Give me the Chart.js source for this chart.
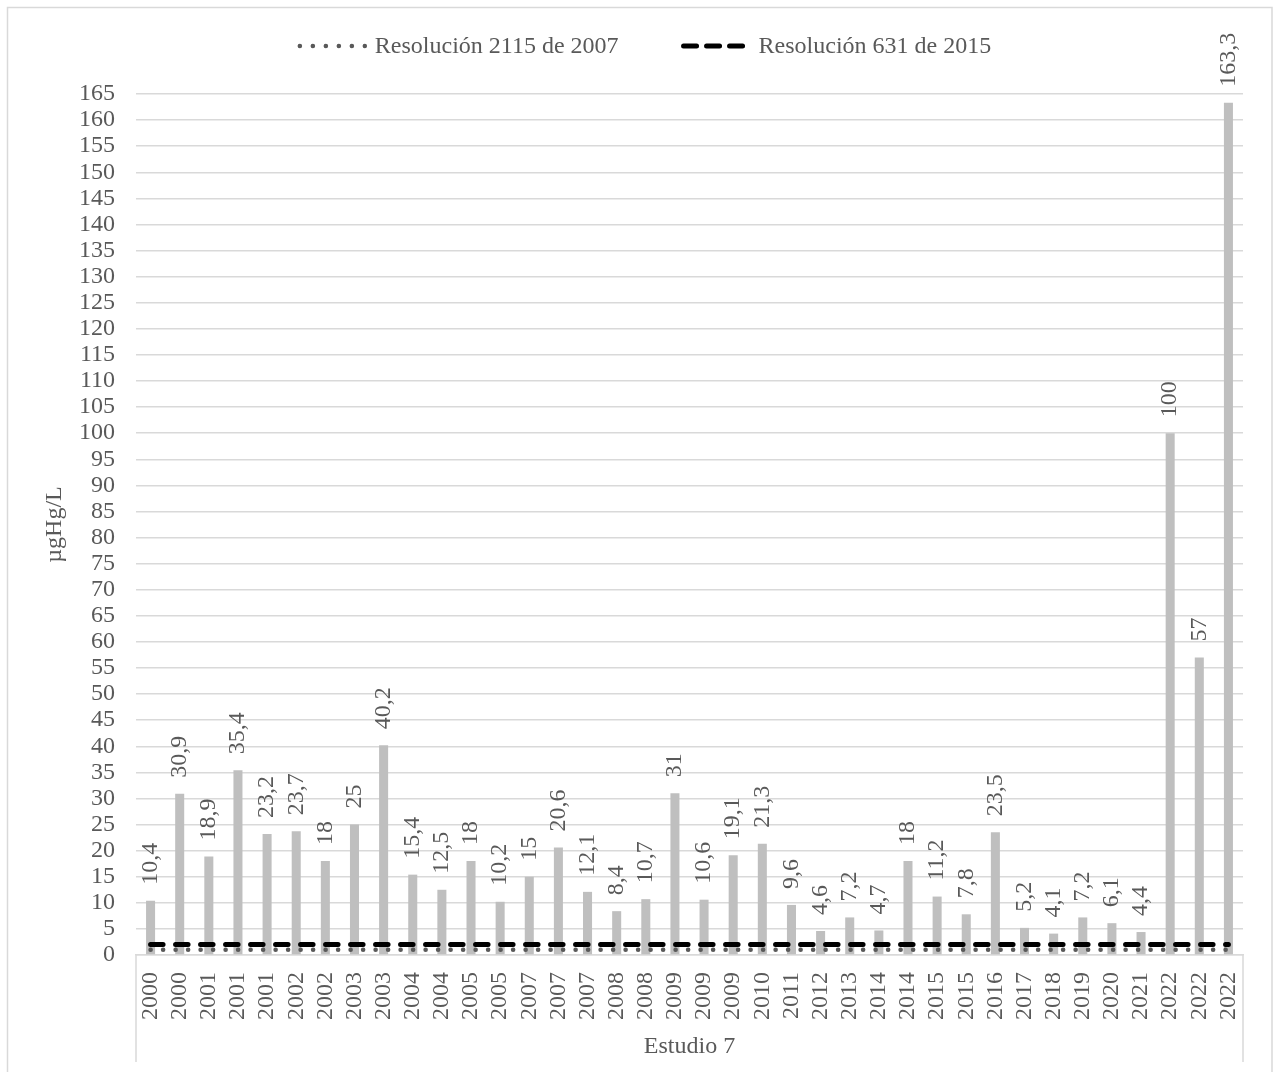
<!DOCTYPE html>
<html>
<head>
<meta charset="utf-8">
<script src="https://cdn.jsdelivr.net/npm/chart.js@4.4.1/dist/chart.umd.min.js"></script>
<style>
html,body{margin:0;padding:0;background:#fff;}
canvas{display:block;}
</style>
</head>
<body>
<canvas id="c" width="1278" height="1072"></canvas>
<script>
// ---------- data ----------
const categories = ['2000','2000','2001','2001','2001','2002','2002','2003','2003','2004','2004','2005','2005','2007','2007','2007','2008','2008','2009','2009','2009','2010','2011','2012','2013','2014','2014','2015','2015','2016','2017','2018','2019','2020','2021','2022','2022','2022'];
const mercury = [10.4,30.9,18.9,35.4,23.2,23.7,18,25,40.2,15.4,12.5,18,10.2,15,20.6,12.1,8.4,10.7,31,10.6,19.1,21.3,9.6,4.6,7.2,4.7,18,11.2,7.8,23.5,5.2,4.1,7.2,6.1,4.4,100,57,163.3];
const res2115 = [1,1,1,1,1,1,1,1,1,1,1,1,1,1,1,1,1,1,1,1,1,1,1,1,1,1,1,1,1,1,1,1,1,1,1,1,1,1];
const res631  = [2,2,2,2,2,2,2,2,2,2,2,2,2,2,2,2,2,2,2,2,2,2,2,2,2,2,2,2,2,2,2,2,2,2,2,2,2,2];
const seriesNames = ['Resolución 2115 de 2007', 'Resolución 631 de 2015'];
const groupLabel = 'Estudio 7';
const yAxisTitle = 'µgHg/L';
const yMin = 0, yMax = 165, yStep = 5;

// ---------- styles ----------
const FAMILY = '"Liberation Serif", "Times New Roman", serif';
const FSIZE = 24;
const TEXT = '#595959';
const GRID = '#d9d9d9';

const fmt = v => String(v).replace('.', ',');

const framePlugin = {
  id: 'frame',
  beforeDraw(chart) {
    const ctx = chart.ctx;
    ctx.save();
    ctx.fillStyle = '#fff';
    ctx.fillRect(0, 0, chart.width, chart.height);
    ctx.strokeStyle = GRID;
    ctx.lineWidth = 1.5;
    ctx.strokeRect(7.5, 7.5, 1264.5, 1090);
    ctx.restore();
  },
  afterDraw(chart) {
    const ctx = chart.ctx;
    const a = chart.chartArea;
    ctx.save();
    ctx.strokeStyle = GRID;
    ctx.lineWidth = 1.5;
    ctx.beginPath();
    ctx.moveTo(a.left, a.bottom); ctx.lineTo(a.left, 1062);
    ctx.moveTo(a.right, a.bottom); ctx.lineTo(a.right, 1062);
    ctx.stroke();
    ctx.restore();
  }
};

const valueLabelPlugin = {
  id: 'valueLabels',
  afterDatasetsDraw(chart) {
    const ctx = chart.ctx;
    const idx = chart.data.datasets.findIndex(d => d.type === 'bar');
    const meta = chart.getDatasetMeta(idx);
    ctx.save();
    ctx.font = FSIZE + 'px ' + FAMILY;
    ctx.fillStyle = TEXT;
    ctx.textAlign = 'left';
    ctx.textBaseline = 'middle';
    meta.data.forEach((el, i) => {
      ctx.save();
      ctx.translate(el.x, el.y - 16);
      ctx.rotate(-Math.PI / 2);
      ctx.fillText(fmt(chart.data.datasets[idx].data[i]), 0, 0);
      ctx.restore();
    });
    ctx.restore();
  }
};

const legendPlugin = {
  id: 'customLegend',
  afterDraw(chart) {
    const ctx = chart.ctx;
    ctx.save();
    ctx.font = FSIZE + 'px ' + FAMILY;
    const sampleW = 68, gapText = 10, gapItem = 62;
    const items = [
      {ds: chart.data.datasets[0], dash: [0.1, 12.9]},
      {ds: chart.data.datasets[1], dash: [13, 10]}
    ];
    const widths = items.map(it => ctx.measureText(it.ds.label).width);
    const total = items.length * (sampleW + gapText) + widths[0] + widths[1] + gapItem;
    let x = 644 - total / 2;
    const yLine = 46, yBase = 53;
    items.forEach((it, k) => {
      ctx.save();
      ctx.strokeStyle = it.ds.borderColor;
      ctx.lineWidth = it.ds.borderWidth;
      ctx.lineCap = 'round';
      ctx.setLineDash(it.dash);
      ctx.beginPath();
      ctx.moveTo(x + 3, yLine);
      ctx.lineTo(x + sampleW, yLine);
      ctx.stroke();
      ctx.restore();
      ctx.fillStyle = TEXT;
      ctx.textBaseline = 'alphabetic';
      ctx.textAlign = 'left';
      ctx.fillText(it.ds.label, x + sampleW + gapText, yBase);
      x += sampleW + gapText + widths[k] + gapItem;
    });
    ctx.restore();
  }
};

new Chart(document.getElementById('c'), {
  type: 'bar',
  data: {
    labels: categories,
    datasets: [
      {
        type: 'line', label: seriesNames[0], data: res2115,
        borderColor: '#595959', borderWidth: 4.5, borderDash: [0.1, 12.4],
        borderCapStyle: 'round', pointRadius: 0, fill: false, tension: 0
      },
      {
        type: 'line', label: seriesNames[1], data: res631,
        borderColor: '#000000', borderWidth: 5, borderDash: [12.5, 12.5],
        borderCapStyle: 'round', pointRadius: 0, fill: false, tension: 0
      },
      {
        type: 'bar', label: 'Estudio 7', data: mercury,
        backgroundColor: '#bfbfbf', borderWidth: 0,
        barPercentage: 0.31, categoryPercentage: 1
      }
    ]
  },
  options: {
    responsive: false,
    animation: false,
    devicePixelRatio: 1,
    layout: { padding: { top: 94, right: 35, left: 0, bottom: 0 } },
    plugins: {
      legend: { display: false },
      tooltip: { enabled: false },
      title: { display: false }
    },
    scales: {
      x: {
        grid: { display: false, drawTicks: false },
        border: { display: true, color: GRID, width: 1.5 },
        ticks: {
          autoSkip: false, minRotation: 90, maxRotation: 90,
          color: TEXT, font: { family: FAMILY, size: FSIZE }, padding: 17
        },
        title: {
          display: true, text: groupLabel, color: TEXT,
          font: { family: FAMILY, size: FSIZE }, padding: { top: 0, bottom: 10.6 }
        },
        afterFit(scale) { scale.height = 117; }
      },
      y: {
        min: yMin, max: yMax,
        grid: { color: GRID, lineWidth: 1.5, drawTicks: false },
        border: { display: false },
        ticks: {
          stepSize: yStep, color: TEXT, font: { family: FAMILY, size: FSIZE },
          padding: 21, autoSkip: false
        },
        title: {
          display: true, text: yAxisTitle, color: TEXT,
          font: { family: FAMILY, size: FSIZE }, padding: { top: 40.6, bottom: 0 }
        },
        afterFit(scale) { scale.width = 136; }
      }
    }
  },
  plugins: [framePlugin, valueLabelPlugin, legendPlugin]
});
</script>
</body>
</html>
